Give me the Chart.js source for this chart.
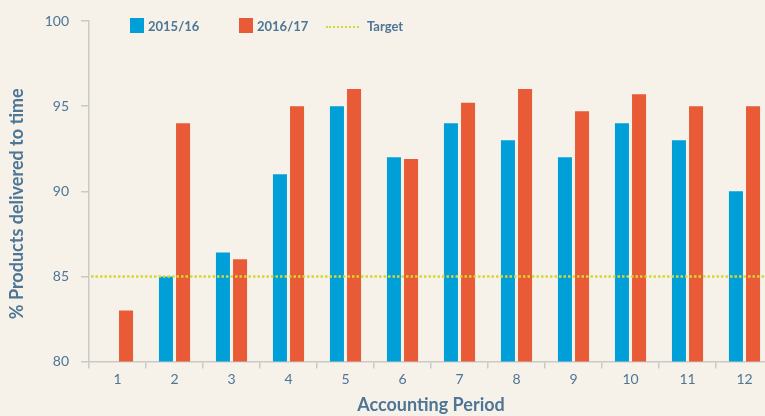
<!DOCTYPE html>
<html>
<head>
<meta charset="utf-8">
<title>Products delivered to time</title>
<script src="https://cdn.jsdelivr.net/npm/chart.js@4.4.1/dist/chart.umd.min.js"></script>
<style>
  html, body {
    margin: 0;
    padding: 0;
    overflow: hidden;
    background: #f6f2ea;
    font-family: Lato, "Open Sans", sans-serif;
  }
  .wrap {
    position: relative;
    width: 765px;
    height: 416px;
    overflow: hidden;
  }
  #legend {
    position: absolute;
    top: 18px;
    left: 130px;
    height: 16px;
    font-size: 13px;
    font-weight: bold;
    color: #4d7595;
  }
  #legend .item {
    position: absolute;
    top: 0;
    white-space: nowrap;
    line-height: 16px;
  }
  #legend .box {
    display: inline-block;
    width: 14px;
    height: 15px;
    vertical-align: top;
    margin-right: 4px;
  }
  #legend .dots {
    display: inline-block;
    width: 33px;
    height: 0;
    border-top: 2px dotted #d4d834;
    vertical-align: middle;
    margin-right: 8px;
    margin-top: -2px;
  }
</style>
</head>
<body>
<div class="wrap">
  <canvas id="deliveryChart" width="775" height="416"></canvas>
  <div id="legend"></div>
</div>
<script>
// data
const periods = ['1', '2', '3', '4', '5', '6', '7', '8', '9', '10', '11', '12'];
const series1Name = '2015/16';
const series1 = [null, 85, 86.4, 91, 95, 92, 94, 93, 92, 94, 93, 90];
const series2Name = '2016/17';
const series2 = [83, 94, 86, 95, 96, 91.9, 95.2, 96, 94.7, 95.7, 95, 95];
const targetName = 'Target';
const targetValue = 85;
const yTicks = [80, 85, 90, 95, 100];
const yTitle = '% Products delivered to time';

const blue = '#009fd7';
const orange = '#e95a37';
const targetColor = '#d4d834';
const textColor = '#4d7595';
const axisColor = '#c9c9c6';

// target line runs the full plot width at the y scale's pixel for targetValue,
// y title is drawn here too because it sits a little below the plot centre
const extras = {
  id: 'extras',
  afterDatasetsDraw(chart) {
    const c = chart.ctx;
    const area = chart.chartArea;
    const y = chart.scales.y.getPixelForValue(targetValue);
    c.save();
    c.strokeStyle = targetColor;
    c.lineWidth = 2.5;
    c.setLineDash([2.5, 2]);
    c.beginPath();
    c.moveTo(area.left + 2, y);
    c.lineTo(area.right, y);
    c.stroke();
    c.restore();
  },
  afterDraw(chart) {
    const c = chart.ctx;
    const area = chart.chartArea;
    c.save();
    c.translate(17.5, (area.top + area.bottom) / 2 + 12.5);
    c.rotate(-Math.PI / 2);
    c.fillStyle = textColor;
    c.font = 'bold 18px Lato';
    c.textAlign = 'center';
    c.textBaseline = 'middle';
    c.fillText(yTitle, 0, 0);
    c.restore();
  }
};

const ctx = document.getElementById('deliveryChart').getContext('2d');

new Chart(ctx, {
  type: 'bar',
  data: {
    labels: periods,
    datasets: [
      {
        label: series1Name,
        data: series1,
        backgroundColor: blue,
        categoryPercentage: 0.6,
        barPercentage: 0.82
      },
      {
        label: series2Name,
        data: series2,
        backgroundColor: orange,
        categoryPercentage: 0.6,
        barPercentage: 0.82
      }
    ]
  },
  plugins: [extras],
  options: {
    responsive: false,
    animation: false,
    devicePixelRatio: 1,
    layout: {
      padding: { top: 21, right: 2, bottom: 0, left: 0 }
    },
    plugins: {
      legend: { display: false },
      tooltip: { enabled: false }
    },
    scales: {
      x: {
        offset: true,
        border: { color: axisColor, width: 1.5 },
        grid: {
          offset: true,
          drawOnChartArea: false,
          drawTicks: true,
          tickLength: 7,
          color: axisColor,
          lineWidth: 1.5
        },
        ticks: {
          color: textColor,
          padding: 3,
          font: { family: 'Lato', size: 14 }
        },
        title: {
          display: true,
          text: 'Accounting Period',
          color: textColor,
          padding: { top: 6, bottom: 0 },
          font: { family: 'Lato', size: 18, weight: 'bold' }
        },
        afterFit: function(scale) {
          scale.height = 54.5;
        }
      },
      y: {
        min: yTicks[0],
        max: yTicks[yTicks.length - 1],
        border: { color: axisColor, width: 1.5 },
        grid: {
          drawOnChartArea: false,
          drawTicks: true,
          tickLength: 8,
          color: axisColor,
          lineWidth: 1.5
        },
        afterBuildTicks: function(scale) {
          scale.ticks = yTicks.map(v => ({ value: v }));
        },
        ticks: {
          color: textColor,
          padding: 12,
          font: { family: 'Lato', size: 14 }
        },
        afterFit: function(scale) {
          scale.width = 89;
        }
      }
    }
  }
});

// legend built from the series names
const legend = document.getElementById('legend');
const legendItems = [
  { name: series1Name, color: blue, left: 0, kind: 'box' },
  { name: series2Name, color: orange, left: 109, kind: 'box' },
  { name: targetName, color: targetColor, left: 196, kind: 'dots' }
];
legendItems.forEach(item => {
  let div = document.createElement('div');
  div.className = 'item';
  div.style.left = item.left + 'px';
  let mark = document.createElement('span');
  mark.className = item.kind;
  if (item.kind === 'box') mark.style.backgroundColor = item.color;
  div.appendChild(mark);
  div.appendChild(document.createTextNode(item.name));
  legend.appendChild(div);
});
</script>
</body>
</html>
